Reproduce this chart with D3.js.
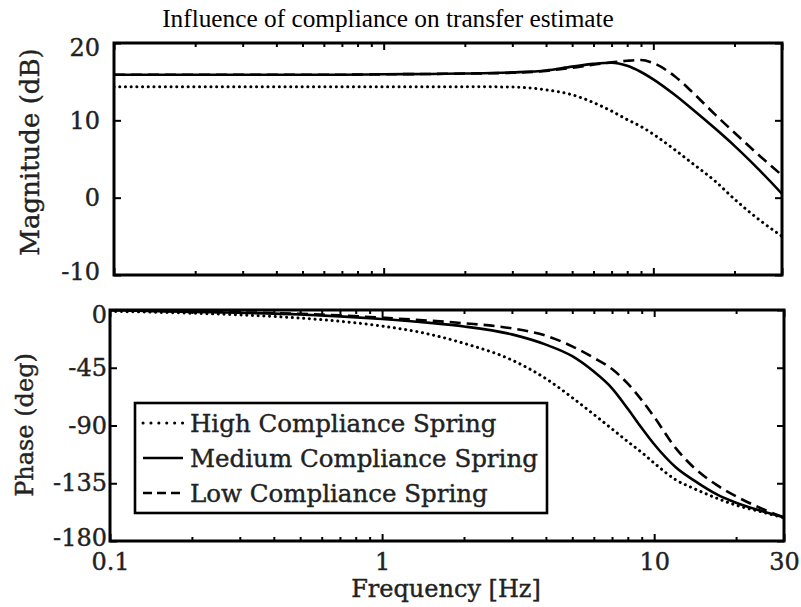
<!DOCTYPE html>
<html>
<head>
<meta charset="utf-8">
<script src="https://cdn.jsdelivr.net/npm/d3@7"></script>
<style>
  body { margin: 0; background: #fff; }
  .tick text { font-family: "DejaVu Serif", serif; font-size: 24px; fill: #222; stroke: #222; stroke-width: 0.4; }
  .tick line { stroke: #000; stroke-width: 2; }
  .lbl { font-family: "DejaVu Serif", serif; fill: #222; stroke: #222; stroke-width: 0.4; }
</style>
</head>
<body>
<svg id="chart" width="801" height="607"></svg>
<script>
var titleText = "Influence of compliance on transfer estimate";
var freqs = [0.1, 0.2, 0.3, 0.5, 0.7, 1, 1.5, 2, 3, 4, 5, 6, 7, 8, 9, 10, 12, 14, 17, 20, 25, 30];

// magnitude in dB
var magHigh = [14.35, 14.35, 14.35, 14.35, 14.35, 14.35, 14.35, 14.35, 14.3, 13.95, 13.3, 12.3, 11.2, 10.1, 9.2, 8.2, 6.2, 4.4, 2.1, -0.2, -3.0, -5.0];
var magMedium = [15.9, 15.9, 15.9, 15.9, 15.9, 15.95, 16.0, 16.05, 16.2, 16.45, 16.95, 17.3, 17.45, 17.05, 16.25, 15.3, 13.3, 11.4, 8.9, 6.7, 3.4, 0.5];
var magLow = [15.9, 15.9, 15.9, 15.9, 15.9, 15.95, 16.0, 16.05, 16.15, 16.4, 16.8, 17.2, 17.5, 17.7, 17.8, 17.4, 15.7, 13.6, 10.7, 8.4, 5.3, 2.9];

// phase in degrees
var phaseHigh = [-1, -2.5, -3.8, -6.3, -8.8, -12.5, -19, -26, -39, -53.5, -68.3, -81.4, -92.7, -102.6, -111, -119.3, -132.3, -139.1, -146.7, -152.1, -157.5, -162];
var phaseMedium = [0, -1.5, -2.2, -3.5, -5, -7, -10, -12.8, -19, -27, -36, -48, -61, -77, -92, -104.6, -122.5, -132.8, -143.7, -150.2, -156.8, -161.5];
var phaseLow = [0, -1.2, -1.8, -3, -4.2, -6, -8.3, -10.3, -14.3, -20, -28.3, -37.3, -46, -57.4, -70.2, -83.3, -107.6, -122.8, -136.5, -145.2, -155, -161.5];

var magTicks = [-10, 0, 10, 20];
var phaseTicks = [-180, -135, -90, -45, 0];
var freqTicks = [0.1, 1, 10, 30];
var freqTickLabels = ["0.1", "1", "10", "30"];
var seriesNames = ["High Compliance Spring", "Medium Compliance Spring", "Low Compliance Spring"];
var seriesDash = ["0.1,5.6", null, "11,6"];

var svg = d3.select("#chart");
svg.append("rect").attr("width", 801).attr("height", 607).attr("fill", "#fff");

svg.append("text")
    .attr("x", 388).attr("y", 27)
    .attr("text-anchor", "middle")
    .style("font-family", "'Liberation Serif', 'Times New Roman', serif")
    .style("font-size", "25.3px")
    .attr("fill", "#000")
    .text(titleText);

function drawPanel(opts) {
    var x = d3.scaleLog().domain([0.1, 30]).range([opts.left, opts.right]);
    var y = d3.scaleLinear().domain(opts.domain).range([opts.bottom, opts.top]);
    var g = svg.append("g");
    var clipId = "clip" + opts.name;
    svg.append("clipPath").attr("id", clipId).append("rect")
        .attr("x", opts.left).attr("y", opts.top)
        .attr("width", opts.right - opts.left).attr("height", opts.bottom - opts.top);

    var minor = x.ticks().filter(function (d) { return freqTicks.indexOf(d) < 0; });

    // x ticks, bottom and top
    g.append("g").attr("transform", "translate(0," + opts.bottom + ")")
        .call(d3.axisBottom(x).tickValues(minor).tickSize(-4).tickFormat(""));
    g.append("g").attr("transform", "translate(0," + opts.top + ")")
        .call(d3.axisTop(x).tickValues(minor).tickSize(-4).tickFormat(""));
    g.append("g").attr("transform", "translate(0," + opts.top + ")")
        .call(d3.axisTop(x).tickValues(freqTicks).tickSize(-7).tickFormat(""));
    g.append("g").attr("transform", "translate(0," + opts.bottom + ")")
        .call(d3.axisBottom(x).tickValues(freqTicks).tickSize(-7).tickPadding(12)
            .tickFormat(function (d, i) { return opts.xLabels ? freqTickLabels[i] : ""; }));

    // y ticks, left and right
    var yl = g.append("g").attr("transform", "translate(" + opts.left + ",0)")
        .call(d3.axisLeft(y).tickValues(opts.ticks).tickSize(-7).tickPadding(opts.pad)
            .tickFormat(function (d) { return String(d); }));
    g.append("g").attr("transform", "translate(" + opts.right + ",0)")
        .call(d3.axisRight(y).tickValues(opts.ticks).tickSize(-7).tickFormat(""));
    yl.selectAll("text").attr("y", function (d) {
        var p = y(d);
        return Math.max(opts.top + 5, Math.min(opts.bottom - 3, p)) - p;
    });
    g.selectAll(".domain").remove();

    var line = d3.line()
        .x(function (d) { return x(d[0]); })
        .y(function (d) { return y(d[1]); })
        .curve(d3.curveMonotoneX);
    var curves = g.append("g").attr("clip-path", "url(#" + clipId + ")");
    opts.series.forEach(function (vals, i) {
        curves.append("path")
            .datum(freqs.map(function (f, j) { return [f, vals[j]]; }))
            .attr("d", line)
            .attr("fill", "none")
            .attr("stroke", "#000")
            .attr("stroke-width", i === 0 ? 3 : 2.6)
            .attr("stroke-linecap", i === 0 ? "round" : "butt")
            .attr("stroke-dasharray", seriesDash[i]);
    });

    g.append("rect")
        .attr("x", opts.left).attr("y", opts.top)
        .attr("width", opts.right - opts.left).attr("height", opts.bottom - opts.top)
        .attr("fill", "none").attr("stroke", "#000").attr("stroke-width", 3);

    g.append("text")
        .attr("class", "lbl")
        .attr("transform", "translate(" + opts.labelX + "," + opts.labelY + ") rotate(-90)")
        .attr("text-anchor", "middle")
        .style("font-size", opts.labelSize + "px")
        .text(opts.label);
    return g;
}

drawPanel({
    name: "mag", left: 114, right: 782, top: 43, bottom: 275,
    domain: [-10, 20], ticks: magTicks, pad: 14, xLabels: false,
    series: [magHigh, magMedium, magLow],
    label: "Magnitude (dB)", labelX: 39, labelY: 152, labelSize: 26
});

drawPanel({
    name: "phase", left: 110, right: 784, top: 310, bottom: 541,
    domain: [-180, 0], ticks: phaseTicks, pad: 3, xLabels: true,
    series: [phaseHigh, phaseMedium, phaseLow],
    label: "Phase (deg)", labelX: 33, labelY: 425, labelSize: 24
});

svg.append("text")
    .attr("class", "lbl")
    .attr("x", 446).attr("y", 597)
    .attr("text-anchor", "middle")
    .style("font-size", "24px")
    .text("Frequency [Hz]");

// legend
var legend = svg.append("g");
legend.append("rect")
    .attr("x", 135).attr("y", 403).attr("width", 412).attr("height", 110)
    .attr("fill", "#fff").attr("stroke", "#000").attr("stroke-width", 2.6);
seriesNames.forEach(function (name, i) {
    var ly = 423 + i * 35;
    legend.append("line")
        .attr("x1", 143).attr("x2", 183).attr("y1", ly).attr("y2", ly)
        .attr("stroke", "#000").attr("stroke-width", i === 0 ? 3 : 2.6)
        .attr("stroke-linecap", i === 0 ? "round" : "butt")
        .attr("stroke-dasharray", i === 0 ? "0.1,7.8" : (i === 2 ? "9,5" : null));
    legend.append("text")
        .attr("class", "lbl")
        .attr("x", 190).attr("y", ly + 9)
        .style("font-size", "24.5px")
        .text(name);
});
</script>
</body>
</html>
